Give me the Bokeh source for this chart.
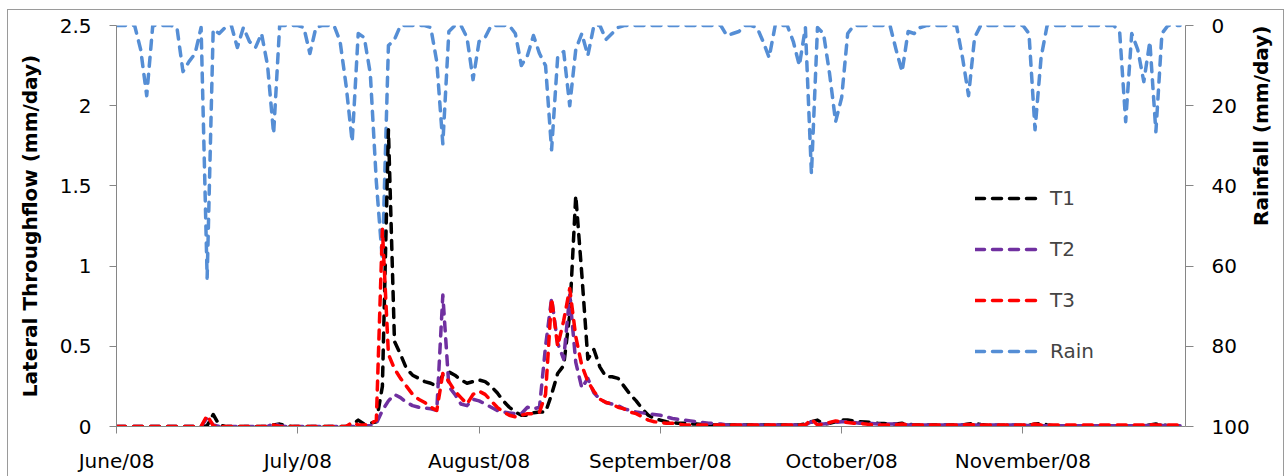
import math
from bokeh.plotting import figure
from bokeh.models import (Range1d, LinearAxis, FixedTicker, Legend, LegendItem,
                          CustomJSTickFormatter, ColumnDataSource)
from bokeh.embed import file_html
from bokeh.resources import INLINE

# ---------------- data ----------------
month_labels = ["June/08", "July/08", "August/08", "September/08", "October/08", "November/08"]
month_ticks = [0, 30, 60, 90, 120, 150]
left_ticks = [0, 0.5, 1, 1.5, 2, 2.5]
right_ticks = [0, 20, 40, 60, 80, 100]

rain = [
    0, 0, 0, 0, 6, 17.5, 0, 0, 0, 0,
    0.5, 11.5, 9, 7, 0.5, 63, 1, 2, 0.5, 0,
    5.5, 0.5, 4, 5.5, 2, 10, 27, 0, 0, 0,
    0, 0.5, 7, 0.5, 0, 0, 0, 4, 15, 29,
    2, 3, 12, 39, 58.5, 5, 3.5, 0, 0, 0,
    0, 0, 0.5, 9, 29.5, 1.5, 0, 0, 3, 13.5,
    4, 3, 0, 0, 0, 0, 2, 10, 7.5, 2.5,
    7, 10, 31, 8, 6.5, 20, 6, 2, 7.5, 0,
    0, 3.5, 2, 0.5, 0, 0, 0, 0, 0, 0,
    0, 0, 0, 0, 0, 0, 0, 0, 0, 0,
    0, 2.5, 2, 1.5, 0, 0, 0.5, 4, 8, 0,
    0, 0, 4, 10, 0.5, 37, 0.5, 2, 12, 24,
    18, 2, 0, 0, 0, 0, 0, 0, 0, 6,
    11.5, 1.5, 2, 0.5, 0, 0, 0, 0, 0, 0,
    8, 17.5, 3, 0, 0, 0, 0, 0, 0, 0,
    0, 2, 26, 8, 0, 0, 0, 0, 0, 0,
    0, 0, 0, 0, 0, 0, 1.5, 24, 2, 6,
    14, 4, 26.5, 2, 0, 0, 0,
]

t1 = [
    0, 0, 0, 0, 0, 0, 0, 0, 0, 0,
    0, 0, 0, 0, 0, 0.005, 0.075, 0.01, 0, 0,
    0, 0, 0, 0, 0, 0, 0.01, 0.015, 0.005, 0,
    0, 0, 0, 0, 0, 0, 0, 0, 0, 0.01,
    0.04, 0.015, 0.02, 0.03, 0.25, 1.85, 0.53, 0.45, 0.36, 0.32,
    0.3, 0.28, 0.27, 0.25, 0.32, 0.34, 0.32, 0.29, 0.27, 0.28,
    0.29, 0.28, 0.25, 0.21, 0.16, 0.12, 0.09, 0.07, 0.07, 0.085,
    0.09, 0.09, 0.2, 0.33, 0.38, 0.7, 1.44, 0.95, 0.42, 0.48,
    0.37, 0.31, 0.31, 0.3, 0.25, 0.2, 0.16, 0.11, 0.07, 0.05,
    0.04, 0.03, 0.025, 0.02, 0.02, 0.015, 0.015, 0.012, 0.01, 0.01,
    0.01, 0.01, 0.01, 0.01, 0.01, 0.01, 0.01, 0.01, 0.01, 0.01,
    0.01, 0.01, 0.01, 0.01, 0.015, 0.03, 0.04, 0.015, 0.02, 0.03,
    0.04, 0.04, 0.035, 0.03, 0.028, 0.025, 0.02, 0.018, 0.015, 0.015,
    0.02, 0.015, 0.01, 0.01, 0.01, 0.01, 0.01, 0.01, 0.01, 0.01,
    0.01, 0.015, 0.02, 0.012, 0.008, 0.008, 0.008, 0.008, 0.008, 0.008,
    0.008, 0.008, 0.015, 0.02, 0.01, 0.005, 0.005, 0.005, 0.005, 0.005,
    0.005, 0.005, 0.005, 0.005, 0.005, 0.005, 0.005, 0.005, 0.005, 0.005,
    0.005, 0.01, 0.015, 0.01, 0.005, 0.003, 0.003,
]

t2 = [
    0, 0, 0, 0, 0, 0, 0, 0, 0, 0,
    0, 0, 0, 0, 0, 0.055, 0.01, 0, 0, 0,
    0, 0, 0, 0, 0, 0, 0.02, 0.005, 0, 0,
    0, 0, 0, 0, 0, 0, 0, 0, 0, 0,
    0, 0.005, 0.005, 0.02, 0.1, 0.16, 0.2, 0.18, 0.15, 0.13,
    0.12, 0.115, 0.11, 0.1, 0.82, 0.25, 0.2, 0.14, 0.13, 0.17,
    0.16, 0.14, 0.12, 0.1, 0.09, 0.085, 0.08, 0.08, 0.12, 0.11,
    0.12, 0.5, 0.8, 0.52, 0.42, 0.82, 0.4, 0.24, 0.3, 0.21,
    0.17, 0.15, 0.14, 0.13, 0.11, 0.1, 0.09, 0.085, 0.08, 0.075,
    0.07, 0.06, 0.05, 0.045, 0.04, 0.035, 0.03, 0.025, 0.02, 0.02,
    0.015, 0.01, 0.01, 0.01, 0.01, 0.01, 0.01, 0.01, 0.01, 0.01,
    0.01, 0.01, 0.01, 0.01, 0.01, 0.03, 0.015, 0.015, 0.02, 0.025,
    0.03, 0.03, 0.025, 0.02, 0.02, 0.018, 0.015, 0.015, 0.015, 0.015,
    0.015, 0.01, 0.01, 0.01, 0.01, 0.01, 0.01, 0.01, 0.01, 0.01,
    0.01, 0.01, 0.01, 0.01, 0.01, 0.01, 0.01, 0.01, 0.01, 0.01,
    0.01, 0.005, 0.005, 0.005, 0.005, 0.005, 0.005, 0.005, 0.005, 0.005,
    0.005, 0.005, 0.005, 0.005, 0.005, 0.005, 0.005, 0.005, 0.005, 0.005,
    0.005, 0.008, 0.012, 0.008, 0.005, 0.005, 0.005,
]

t3 = [
    0, 0, 0, 0, 0, 0, 0, 0, 0, 0,
    0, 0, 0, 0, 0, 0.07, 0.005, 0, 0, 0,
    0, 0, 0, 0, 0, 0, 0.01, 0, 0, 0,
    0, 0, 0, 0, 0, 0, 0, 0, 0, 0.025,
    0.01, 0.01, 0.015, 0.04, 1.23, 0.45, 0.36, 0.3, 0.25, 0.2,
    0.17, 0.15, 0.12, 0.1, 0.33, 0.28, 0.22, 0.18, 0.14, 0.2,
    0.22, 0.2, 0.16, 0.12, 0.09, 0.07, 0.06, 0.07, 0.08, 0.08,
    0.09, 0.2, 0.8, 0.5, 0.66, 0.86, 0.56, 0.38, 0.28, 0.22,
    0.17, 0.15, 0.14, 0.12, 0.11, 0.09, 0.08, 0.06, 0.04, 0.03,
    0.025, 0.02, 0.02, 0.015, 0.01, 0.01, 0.01, 0.01, 0.01, 0.01,
    0.01, 0.01, 0.01, 0.01, 0.01, 0.01, 0.01, 0.01, 0.01, 0.01,
    0.01, 0.01, 0.01, 0.01, 0.01, 0.045, 0.01, 0.015, 0.025, 0.035,
    0.03, 0.025, 0.02, 0.02, 0.015, 0.01, 0.01, 0.01, 0.01, 0.01,
    0.015, 0.01, 0.01, 0.01, 0.01, 0.01, 0.01, 0.01, 0.01, 0.01,
    0.01, 0.012, 0.01, 0.01, 0.01, 0.01, 0.01, 0.01, 0.01, 0.01,
    0.01, 0.01, 0.015, 0.01, 0.01, 0.01, 0.01, 0.01, 0.01, 0.01,
    0.01, 0.01, 0.01, 0.01, 0.01, 0.01, 0.01, 0.01, 0.01, 0.01,
    0.01, 0.012, 0.01, 0.01, 0.01, 0.01, 0.01,
]

days = list(range(len(rain)))

# ---------------- styling ----------------
FONT = "DejaVu Sans"
AXIS_GREY = "#868686"
DASH = "9 8"
LW = 3.5

src = ColumnDataSource(dict(day=days, rain=rain, t1=t1, t2=t2, t3=t3))

p = figure(width=1287, height=476,
           x_range=Range1d(0, 176.9), y_range=Range1d(0, 2.5),
           output_backend="svg", toolbar_location=None,
           min_border_left=116, min_border_right=92,
           min_border_top=25, min_border_bottom=50)
p.extra_y_ranges = {"rain": Range1d(100, 0)}

p.xgrid.visible = False
p.ygrid.visible = False
p.outline_line_color = None
p.background_fill_color = "white"
# transparent outer band so the page-level chart border (drawn with CSS) shows
p.border_fill_alpha = 0
BORDER = "#9a9a9a"
p.styles = {
    "background": (
        f"linear-gradient({BORDER},{BORDER}) 7px 9px / 1px 100% no-repeat, "
        f"linear-gradient({BORDER},{BORDER}) 7px 9px / 1277px 1px no-repeat, "
        f"linear-gradient({BORDER},{BORDER}) 1283px 9px / 1px 100% no-repeat, "
        "white"
    )
}

# x axis
xa = p.xaxis[0]
xa.ticker = FixedTicker(ticks=month_ticks)
xa.major_label_overrides = {t: lab for t, lab in zip(month_ticks, month_labels)}
# left axis
ya = p.yaxis[0]
ya.ticker = FixedTicker(ticks=left_ticks)
ya.formatter = CustomJSTickFormatter(code="return String(tick)")
ya.axis_label = "Lateral Throughflow (mm/day)"
# right axis
ra = LinearAxis(y_range_name="rain", ticker=FixedTicker(ticks=right_ticks),
                axis_label="Rainfall (mm/day)")
p.add_layout(ra, "right")

for ax in (xa, ya, ra):
    ax.axis_line_color = AXIS_GREY
    ax.major_tick_line_color = AXIS_GREY
    ax.minor_tick_line_color = None
    ax.minor_tick_out = 0
    ax.major_tick_in = 0
    ax.major_tick_out = 7
    ax.major_label_text_font = FONT
    ax.major_label_text_font_size = "20px"
    ax.major_label_text_color = "black"
    ax.axis_label_text_font = FONT
    ax.axis_label_text_font_size = "20px"
    ax.axis_label_text_font_style = "bold"
    ax.axis_label_text_color = "black"
xa.major_label_standoff = 15
ya.major_label_standoff = 18
ra.major_label_standoff = 18
ra.major_tick_out = 8
ya.axis_label_standoff = 15
ra.axis_label_standoff = 8
if "axis_label_orientation" in ra.properties():
    ra.axis_label_orientation = math.pi / 2

# lines (rain first so the throughflow lines sit on top)
r_rain = p.line("day", "rain", source=src, y_range_name="rain", color="#558ED5",
                line_width=LW, line_dash=DASH, line_cap="round", line_join="round")
r1 = p.line("day", "t1", source=src, color="#000000",
            line_width=LW, line_dash=DASH, line_cap="round", line_join="round")
r2 = p.line("day", "t2", source=src, color="#7030A0",
            line_width=LW, line_dash=DASH, line_cap="round", line_join="round")
r3 = p.line("day", "t3", source=src, color="#FF0000",
            line_width=LW, line_dash=DASH, line_cap="round", line_join="round")

legend = Legend(items=[LegendItem(label="T1", renderers=[r1]),
                       LegendItem(label="T2", renderers=[r2]),
                       LegendItem(label="T3", renderers=[r3]),
                       LegendItem(label="Rain", renderers=[r_rain])],
                location=(859, 63), orientation="vertical",
                glyph_width=65, glyph_height=20, label_height=20,
                spacing=27, padding=0, margin=0, label_standoff=10,
                label_text_font=FONT, label_text_font_size="20px",
                border_line_color=None, background_fill_alpha=0)
p.add_layout(legend)

open("out.html", "w").write(file_html(p, INLINE))
